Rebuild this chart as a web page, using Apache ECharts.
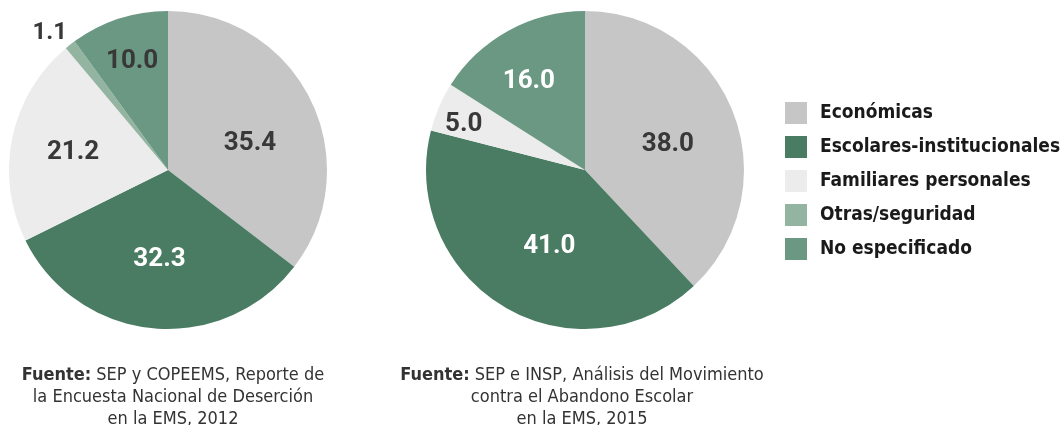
<!DOCTYPE html>
<html>
<head>
<meta charset="utf-8">
<script src="https://cdn.jsdelivr.net/npm/echarts@6/dist/echarts.min.js"></script>
<style>
html,body{margin:0;padding:0;background:#fff;}
#c{width:1061px;height:425px;}
</style>
</head>
<body>
<div id="c"></div>
<script>
const categories = ['Económicas', 'Escolares-institucionales', 'Familiares personales', 'Otras/seguridad', 'No especificado'];
const values2012 = [35.4, 32.3, 21.2, 1.1, 10.0];
const values2015 = [38.0, 41.0, 5.0, null, 16.0];
const source2012 = ['SEP y COPEEMS, Reporte de', 'la Encuesta Nacional de Deserción', 'en la EMS, 2012'];
const source2015 = ['SEP e INSP, Análisis del Movimiento', 'contra el Abandono Escolar', 'en la EMS, 2015'];

// styles
const colors = ['#c6c6c6', '#4a7c63', '#ececec', '#93b4a1', '#6a9882'];
const labelColors2012 = ['#383838', '#ffffff', '#383838', '#383838', '#383838'];
const labelColors2015 = ['#383838', '#ffffff', '#383838', '#383838', '#ffffff'];
// label placement: radius fraction and angular tweak (degrees) per category
const labelRadius2012 = [0.545, 0.55, 0.61, 1.15, 0.73];
const labelTurn2012 = [7.4, 0, 0, -2.3, 0];
const labelRadius2015 = [0.55, 0.52, 0.82, 0, 0.67];
const labelTurn2015 = [3, -5, -1.8, 0, -3];
const labelSize2012 = [26, 26, 26, 24, 26];
const labelBaselineShift = 2;

const labelFont = 'Roboto, "Liberation Sans", sans-serif';
const narrowFont = '"Liberation Sans Narrow", "DejaVu Sans Condensed", sans-serif';
const R = 159;

function buildData(values, lblColors, sizes) {
  const out = [];
  values.forEach((v, i) => {
    if (v === null) return;
    out.push({
      name: categories[i],
      value: v,
      itemStyle: { color: colors[i] },
      label: { color: lblColors[i], fontSize: sizes ? sizes[i] : 26 }
    });
  });
  return out;
}

function makeLayout(center, values, fracs, turns) {
  const total = values.reduce((a, b) => a + (b || 0), 0);
  const mids = [];
  let cum = 0;
  values.forEach((v) => {
    if (v === null) { mids.push(null); return; }
    mids.push((cum + v / 2) / total * 360);
    cum += v;
  });
  const present = [];
  values.forEach((v, i) => { if (v !== null) present.push(i); });
  return function (params) {
    const ci = present[params.dataIndex];
    const ang = (mids[ci] + turns[ci]) * Math.PI / 180;
    const d = fracs[ci] * R;
    return {
      x: center[0] + Math.sin(ang) * d,
      y: center[1] - Math.cos(ang) * d + labelBaselineShift,
      align: 'center',
      verticalAlign: 'middle'
    };
  };
}

function pieSeries(center, values, lblColors, fracs, turns, sizes) {
  return {
    type: 'pie',
    center: center,
    radius: R,
    startAngle: 90,
    clockwise: true,
    avoidLabelOverlap: false,
    emphasis: { disabled: true },
    label: {
      show: true,
      position: 'inside',
      formatter: p => p.value.toFixed(1),
      fontFamily: labelFont,
      fontWeight: 'bold',
      fontSize: 26
    },
    labelLine: { show: false },
    labelLayout: makeLayout(center, values, fracs, turns),
    data: buildData(values, lblColors, sizes)
  };
}

function sourceTitle(x, lines) {
  return {
    left: x,
    top: 359,
    textAlign: 'center',
    text: '{b|Fuente:} {n|' + lines[0] + '}\n{n|' + lines[1] + '}\n{n|' + lines[2] + '}',
    textStyle: {
      rich: {
        b: { fontFamily: narrowFont, fontWeight: 'bold', fontSize: 18, color: '#333', lineHeight: 22 },
        n: { fontFamily: narrowFont, fontWeight: 'normal', fontSize: 18, color: '#333', lineHeight: 22 }
      }
    }
  };
}

const center2012 = [168, 170];
const center2015 = [585, 170];

const chart = echarts.init(document.getElementById('c'), null, { renderer: 'canvas' });
chart.setOption({
  animation: false,
  backgroundColor: '#ffffff',
  title: [sourceTitle(168, source2012), sourceTitle(577, source2015)],
  legend: {
    orient: 'vertical',
    left: 785,
    top: 102,
    padding: 0,
    itemWidth: 22,
    itemHeight: 22,
    itemGap: 12,
    icon: 'rect',
    data: categories,
    textStyle: {
      fontFamily: narrowFont,
      fontWeight: 'bold',
      fontSize: 19,
      color: '#1a1a1a',
      padding: [0, 0, 0, 8]
    },
    selectedMode: false
  },
  series: [
    pieSeries(center2012, values2012, labelColors2012, labelRadius2012, labelTurn2012, labelSize2012),
    pieSeries(center2015, values2015, labelColors2015, labelRadius2015, labelTurn2015, null)
  ]
});
</script>
</body>
</html>
